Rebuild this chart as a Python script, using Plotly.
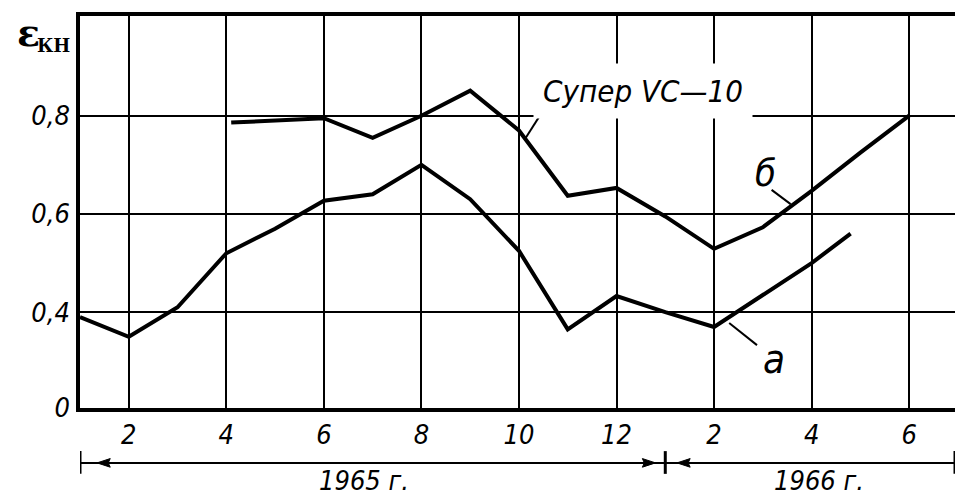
import plotly.graph_objects as go

# Month index: 1..12 = 1965, 13..18 = 1966 (month = index-12)
X_A = [1, 2, 3, 4, 5, 6, 7, 8, 9, 10, 11, 12, 13, 14, 15, 16, 16.8]
Y_A = [0.39, 0.35, 0.41, 0.52, 0.57, 0.627, 0.64, 0.70, 0.63, 0.525, 0.365, 0.433, 0.40, 0.37, 0.435, 0.50, 0.56]

X_B = [4.1, 6, 7, 8, 9, 10, 11, 12, 13, 14, 15, 16, 17, 18]
Y_B = [0.786, 0.795, 0.755, 0.80, 0.851, 0.77, 0.637, 0.653, 0.595, 0.529, 0.573, 0.647, 0.725, 0.80]

X_TICKVALS = [2, 4, 6, 8, 10, 12, 14, 16, 18]
X_TICKTEXT = ["2", "4", "6", "8", "10", "12", "2", "4", "6"]
Y_TICKVALS = [0.205, 0.4, 0.6, 0.8]
Y_TICKTEXT = ["0", "0,4", "0,6", "0,8"]
X_RANGE = [1, 18.94]
Y_RANGE = [0.205, 1.003]

YEAR_LABELS = ["1965 г.", "1966 г."]
YEAR_CENTERS = [6.82, 16.16]
YEAR_START = 1.0
YEAR_SPLIT = 13.0
YEAR_END = 18.94

FONT = "DejaVu Sans Condensed, Liberation Sans Narrow, Arial Narrow, sans-serif"
SERIF = "DejaVu Serif, Liberation Serif, serif"

fig = go.Figure()
for xs, ys in [(X_A, Y_A), (X_B, Y_B)]:
    fig.add_trace(go.Scatter(x=xs, y=ys, mode="lines",
                             line=dict(color="black", width=4),
                             showlegend=False, hoverinfo="skip"))

axis_common = dict(showline=True, linecolor="black", linewidth=3.5, mirror=True,
                   showgrid=True, gridcolor="black", gridwidth=2.2,
                   zeroline=False, ticks="",
                   tickfont=dict(family=FONT, size=27, color="black", style="italic"))

fig.update_xaxes(range=X_RANGE, tickvals=X_TICKVALS, ticktext=X_TICKTEXT,
                 ticklabelstandoff=0, **axis_common)
fig.update_yaxes(range=Y_RANGE, tickvals=Y_TICKVALS, ticktext=Y_TICKTEXT,
                 ticklabelstandoff=1, **axis_common)

ann = []
# curve labels
ann.append(dict(x=12.55, y=0.851, xref="x", yref="y", text="Супер VC—10", showarrow=False,
                font=dict(family=FONT, size=31, color="black", style="italic"),
                bgcolor="white", borderpad=9))
ann.append(dict(x=15.05, y=0.683, xref="x", yref="y", text="б", showarrow=False,
                font=dict(family=FONT, size=38, color="black", style="italic")))
ann.append(dict(x=15.22, y=0.305, xref="x", yref="y", text="а", showarrow=False,
                font=dict(family=FONT, size=40, color="black", style="italic")))
# axis title
ann.append(dict(x=-0.0585, y=0.958, xref="paper", yref="paper", text="ε", showarrow=False,
                font=dict(family=SERIF, size=38, color="black", weight="bold"),
                xanchor="center", yanchor="middle"))
ann.append(dict(x=-0.03, y=0.926, xref="paper", yref="paper", text="КН", showarrow=False,
                font=dict(family=SERIF, size=18, color="black", weight="bold"),
                xanchor="center", yanchor="middle"))
# year labels
for t, c in zip(YEAR_LABELS, YEAR_CENTERS):
    ann.append(dict(x=c, y=-0.186, xref="x", yref="paper", text=t, showarrow=False,
                    font=dict(family=FONT, size=27, color="black", style="italic"),
                    yanchor="middle"))

shapes = []
# leader lines
for (x0, y0, x1, y1) in [(10.53, 0.816, 10.14, 0.755), (15.18, 0.649, 15.57, 0.62),
                         (14.88, 0.333, 14.31, 0.378)]:
    shapes.append(dict(type="line", xref="x", yref="y", x0=x0, y0=y0, x1=x1, y1=y1,
                       line=dict(color="black", width=2)))
# bracket line
BY = -0.14
shapes.append(dict(type="line", xref="x", yref="paper", x0=YEAR_START, x1=YEAR_END, y0=BY, y1=BY,
                   line=dict(color="black", width=2)))
for xv in [YEAR_START, YEAR_SPLIT, YEAR_END]:
    shapes.append(dict(type="line", xref="x", yref="paper", x0=xv, x1=xv, y0=BY + 0.03, y1=BY - 0.028,
                       line=dict(color="black", width=3)))
# arrowheads (tip, base)
h = 0.011
for tip, base in [(YEAR_START + 0.35, YEAR_START + 0.62), (YEAR_SPLIT - 0.2, YEAR_SPLIT - 0.47),
                  (YEAR_SPLIT + 0.24, YEAR_SPLIT + 0.51)]:
    shapes.append(dict(type="path", xref="x", yref="paper",
                       path=f"M {tip} {BY} L {base} {BY + h} L {base - (base - tip) * 0.15} {BY} L {base} {BY - h} Z",
                       fillcolor="black", line=dict(color="black", width=1)))

# page body has an 8px margin: size the figure so the plot area lands at x 80-959, y 15-408
fig.update_layout(width=955, height=489, margin=dict(l=72, r=4, t=7, b=89),
                  paper_bgcolor="white", plot_bgcolor="white",
                  annotations=ann, shapes=shapes, showlegend=False)

fig.write_html("out.html")
